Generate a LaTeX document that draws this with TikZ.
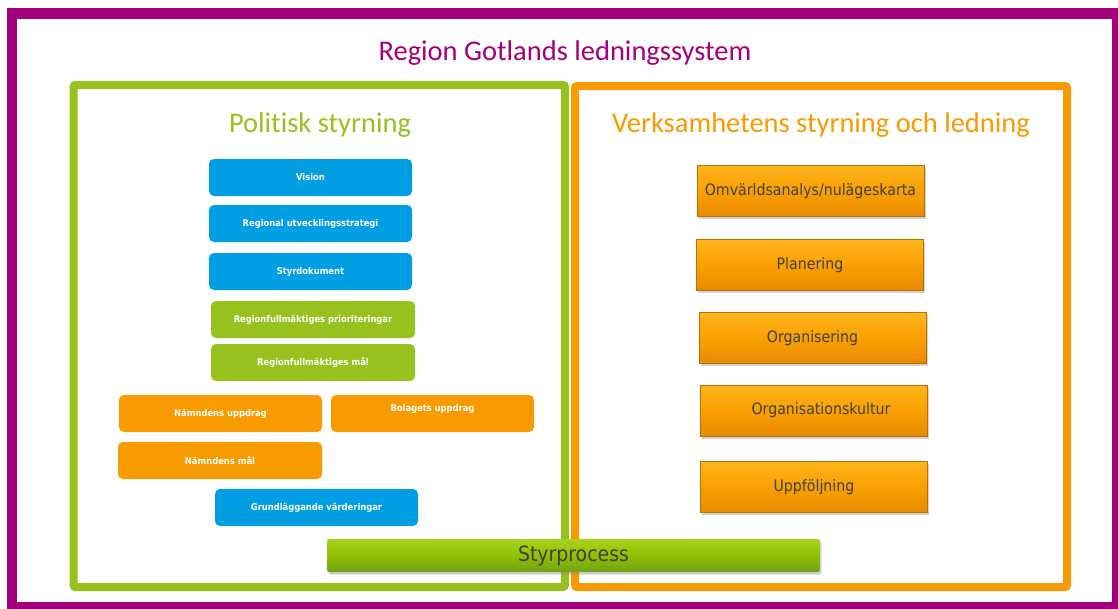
\documentclass[tikz,border=0pt]{standalone}
\usepackage{fontspec}
\setmainfont{Carlito}[Ligatures={NoCommon}]
\newfontfamily\tah{DejaVu Sans Condensed}
\usetikzlibrary{shadows}
\definecolor{purp}{HTML}{A3007D}
\definecolor{grn}{HTML}{97C21E}
\definecolor{org}{HTML}{F79B00}
\definecolor{blu}{HTML}{009FE3}
\definecolor{txt}{HTML}{404040}
\definecolor{bevtop}{HTML}{FFB51E}
\definecolor{bevmid}{HTML}{FAA000}
\definecolor{bevbot}{HTML}{E88A00}
\definecolor{bevedge}{HTML}{B87000}
\definecolor{sptop}{HTML}{A6D41C}
\definecolor{spmid}{HTML}{90C000}
\definecolor{spbot}{HTML}{72A018}
\begin{document}
\begin{tikzpicture}[x=1pt,y=-1pt,
  frame/.style={line width=8pt,rounded corners=2pt},
  sbox/.style={rounded corners=5pt,minimum width=203pt,minimum height=37pt,inner sep=0pt,
     text=white,font=\tah\bfseries\fontsize{9.3}{11}\selectfont},
  bbox/.style={sbox,fill=blu},
  gbox/.style={sbox,fill=grn},
  obox/.style={sbox,fill=org},
  bev/.style={minimum width=227pt,minimum height=51pt,inner sep=0pt,
     top color=bevtop,bottom color=bevbot,middle color=bevmid,
     draw=bevedge,line width=0.6pt,
     drop shadow={shadow xshift=1.5pt,shadow yshift=-2.5pt,opacity=0.35},
     text=txt,font=\tah\fontsize{15.75}{18}\selectfont},
  lbl/.style={text=white,font=\tah\bfseries\fontsize{9.3}{11}\selectfont},
  head/.style={font=\fontsize{28.5}{32}\selectfont}]
\useasboundingbox (0,0) rectangle (1118,608);
\fill[white] (0,0) rectangle (1118,608);
% outer frame
\draw[purp,line width=10.5pt] (12,13.5) rectangle (1117.5,607.5);
\node[head,text=purp] (title) at (565,53) {Region Gotlands ledningssystem};
% inner frames
\draw[frame,grn] (73.5,85) rectangle (565,587);
\draw[frame,org] (575,86) rectangle (1067,587);
\node[head,text=grn] (pol) at (320,125) {Politisk styrning};
\node[head,text=org] (verk) at (821,125) {Verksamhetens styrning och ledning};
% left boxes
\node[bbox] (vision) at (310.5,177.5) {Vision};
\node[bbox] (rus) at (310.5,223.5) {Regional utvecklingsstrategi};
\node[bbox] (styrdok) at (310.5,271.5) {Styrdokument};
\node[gbox,minimum width=204pt] (prio) at (313,319.5) {Regionfullmäktiges prioriteringar};
\node[gbox,minimum width=204pt] (rfmal) at (313,362.5) {Regionfullmäktiges mål};
\node[obox] (nupp) at (220.5,413.5) {Nämndens uppdrag};
\node[obox,label={[lbl,yshift=5pt]center:Bolagets uppdrag}] (bol) at (432.5,413.5) {};
\node[obox,minimum width=204pt] (nmal) at (220,460.5) {Nämndens mål};
\node[bbox] (grund) at (316.5,507.5) {Grundläggande värderingar};
% right boxes
\node[bev] (omv) at (810.5,191) {Omvärldsanalys/nulägeskarta};
\node[bev] (plan) at (810,265) {Planering};
\node[bev] (orgn) at (812.5,338) {Organisering};
\node[bev,label={[text=txt,font=\tah\fontsize{15.75}{18}\selectfont,xshift=7pt]center:Organisationskultur}] (orgk) at (814,410.5) {};
\node[bev] (upp) at (814,487) {Uppföljning};
% process bar
\node[minimum width=493pt,minimum height=33pt,inner sep=0pt,rounded corners=2pt,
  top color=sptop,bottom color=spbot,middle color=spmid,
  drop shadow={shadow xshift=1.5pt,shadow yshift=-2.5pt,opacity=0.35},
  text=txt,font=\tah\fontsize{21}{23}\selectfont] (styrp) at (573.5,555.5) {Styrprocess};
\end{tikzpicture}
\end{document}
